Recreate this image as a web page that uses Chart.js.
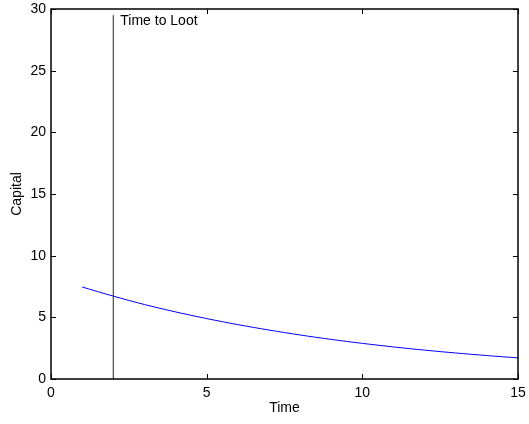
<!DOCTYPE html>
<html>
<head>
<meta charset="utf-8">
<script src="https://cdn.jsdelivr.net/npm/chart.js@4.4.1/dist/chart.umd.min.js"></script>
<style>
  html, body { margin: 0; padding: 0; background: #fff; }
  #wrap { width: 529px; height: 424px; }
</style>
</head>
<body>
<div id="wrap"><canvas id="chart-area"></canvas></div>
<script>
// values
var times = [1, 2, 3, 4, 5, 6, 7, 8, 9, 10, 11, 12, 13, 14, 15];
var capital = [7.46, 6.72, 6.04, 5.44, 4.90, 4.41, 3.97, 3.57, 3.21, 2.89, 2.60, 2.34, 2.11, 1.90, 1.71];
var lootTime = 2;
var lootTop = 29.5;
var lootLabel = 'Time to Loot';
var xTicks = [0, 5, 10, 15];
var yTicks = [0, 5, 10, 15, 20, 25, 30];

var FONT = '"Liberation Sans", Arial, Helvetica, sans-serif';

var curve = times.map(function (t, i) { return {x: t, y: capital[i]}; });
var lootLine = [{x: lootTime, y: 0}, {x: lootTime, y: lootTop}];

// matlab style box with inward ticks + the label
var boxPlugin = {
	id: 'box',
	afterDraw: function (chart) {
		var ctx = chart.ctx;
		var a = chart.chartArea;
		var xs = chart.scales.x, ys = chart.scales.y;
		ctx.save();
		ctx.strokeStyle = '#000';
		ctx.lineWidth = 1;
		ctx.beginPath();
		xTicks.forEach(function (v) {
			var px = Math.round(xs.getPixelForValue(v)) + 0.5;
			ctx.moveTo(px, a.bottom); ctx.lineTo(px, a.bottom - 5);
			ctx.moveTo(px, a.top); ctx.lineTo(px, a.top + 5);
		});
		yTicks.forEach(function (v) {
			var py = Math.round(ys.getPixelForValue(v)) + 0.5;
			ctx.moveTo(a.left, py); ctx.lineTo(a.left + 5, py);
			ctx.moveTo(a.right, py); ctx.lineTo(a.right - 5, py);
		});
		ctx.stroke();
		ctx.lineWidth = 1.5;
		ctx.strokeRect(a.left, a.top, a.right - a.left, a.bottom - a.top);

		ctx.fillStyle = '#000';
		ctx.font = '14px ' + FONT;
		ctx.textAlign = 'left';
		ctx.textBaseline = 'top';
		ctx.fillText(lootLabel, xs.getPixelForValue(lootTime) + 7, ys.getPixelForValue(lootTop) - 1);
		ctx.restore();
	}
};

var config = {
	type: 'scatter',
	data: {
		datasets: [{
			data: curve,
			showLine: true,
			borderColor: '#0000ff',
			borderWidth: 1,
			pointRadius: 0,
			tension: 0.3
		}, {
			data: lootLine,
			showLine: true,
			borderColor: '#222',
			borderWidth: 1,
			pointRadius: 0
		}]
	},
	options: {
		responsive: false,
		animation: false,
		layout: {padding: {top: 9, right: 11, left: 0, bottom: 0}},
		plugins: {
			legend: {display: false},
			tooltip: {enabled: false}
		},
		scales: {
			x: {
				type: 'linear',
				min: 0, max: 15,
				grid: {display: false, drawTicks: false},
				border: {display: false},
				afterBuildTicks: function (s) { s.ticks = xTicks.map(function (v) { return {value: v}; }); },
				afterFit: function (s) { s.height = 45; s.paddingLeft = 0; s.paddingRight = 0; },
				ticks: {color: '#000', padding: 6, maxRotation: 0, font: {family: FONT, size: 14}},
				title: {display: true, text: 'Time', color: '#000', padding: {top: 0, bottom: 7}, font: {family: FONT, size: 14}}
			},
			y: {
				type: 'linear',
				min: 0, max: 30,
				grid: {display: false, drawTicks: false},
				border: {display: false},
				afterBuildTicks: function (s) { s.ticks = yTicks.map(function (v) { return {value: v}; }); },
				afterFit: function (s) { s.width = 51; s.paddingTop = 0; s.paddingBottom = 0; },
				ticks: {color: '#000', padding: 5, font: {family: FONT, size: 14}},
				title: {display: true, text: 'Capital', color: '#000', padding: {top: 9, bottom: 0}, font: {family: FONT, size: 14}}
			}
		}
	},
	plugins: [boxPlugin]
};

window.onload = function () {
	var canvas = document.getElementById('chart-area');
	canvas.width = 529;
	canvas.height = 424;
	var ctx = canvas.getContext('2d');
	window.myChart = new Chart(ctx, config);
};
</script>
</body>
</html>
